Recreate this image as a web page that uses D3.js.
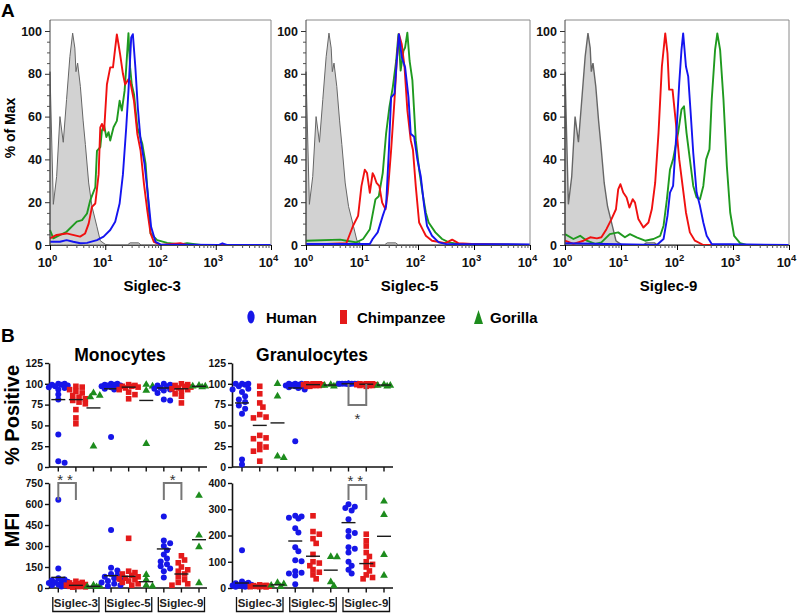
<!DOCTYPE html>
<html><head><meta charset="utf-8">
<script src="https://cdnjs.cloudflare.com/ajax/libs/d3/7.8.5/d3.min.js"></script>
<style>
body{margin:0;background:#fff}
svg{display:block}
text{font-family:"Liberation Sans",Arial,sans-serif}
</style>
</head><body>
<svg id="c" width="800" height="613"></svg>
<script>
// ---------- Panel A data: [log10 intensity, % of max] ----------
const isotype = [[0,0],[0,81],[0.06,19],[0.12,32],[0.18,60],[0.24,48],[0.3,68],[0.36,88],[0.41,99],[0.45,92],[0.47,81],[0.5,85],[0.55,74],[0.6,58],[0.64,47],[0.7,29],[0.76,18],[0.85,8.5],[0.91,2],[1.0,0.3],[1.1,0],[1.4,0],[1.45,1],[1.6,1],[1.65,0],[4,0]];

const s3Blue = [[0,1.5],[0.18,1.5],[0.3,2.3],[0.42,1.5],[0.55,0.8],[0.67,1],[0.85,2.3],[0.97,3.9],[1.09,7],[1.18,10.9],[1.26,19.4],[1.32,33],[1.38,55],[1.42,72],[1.47,97],[1.5,98.5],[1.545,83],[1.59,64],[1.64,49],[1.71,38],[1.77,24],[1.83,8.5],[1.91,1.5],[2.0,0.3],[3.05,0],[3.12,0.8],[3.2,0],[4,0]];
const s3Red = [[0,3.1],[0.12,4.7],[0.3,5.4],[0.545,3.9],[0.636,5.4],[0.7,10],[0.76,17.8],[0.82,19.4],[0.88,33],[0.91,55],[0.94,56.6],[0.98,53.5],[1.03,75],[1.09,83],[1.14,83],[1.18,92],[1.21,98.4],[1.24,93.8],[1.27,89],[1.32,80],[1.36,75],[1.42,77.5],[1.45,76.7],[1.52,67.4],[1.58,52],[1.64,44],[1.7,28.7],[1.76,16.3],[1.82,5.4],[1.88,1.5],[2.0,0],[2.36,0.8],[2.48,0],[4,0]];
const s3Green = [[0,7],[0.06,3.1],[0.3,6.2],[0.485,10.9],[0.58,11.6],[0.67,14.7],[0.73,21],[0.82,27],[0.85,44],[0.91,45.7],[0.94,53.5],[0.98,55.8],[1.02,50.4],[1.06,52.7],[1.09,48.8],[1.15,55],[1.21,58],[1.26,67.4],[1.3,62.8],[1.35,72],[1.38,83],[1.42,99],[1.45,83],[1.48,75],[1.52,70.5],[1.58,55],[1.67,47.3],[1.73,38],[1.76,27],[1.82,5.4],[1.94,2.3],[2.12,1],[2.36,0.3],[2.48,0.8],[2.73,0],[4,0]];

const s5Blue = [[0,0.5],[1.14,0.5],[1.19,2.8],[1.28,5.9],[1.37,13.6],[1.43,18.2],[1.48,44.4],[1.52,69],[1.58,70.7],[1.62,86],[1.66,98.5],[1.71,87.7],[1.77,83],[1.83,69],[1.87,52],[1.93,50.6],[1.99,39.8],[2.05,32],[2.11,18.2],[2.16,9],[2.25,4.3],[2.37,1.2],[2.49,0.5],[4,0.3]];
const s5Red = [[0,0],[0.37,0.5],[0.72,0.8],[0.75,2.8],[0.84,9],[0.93,13.6],[0.99,27.5],[1.05,35.2],[1.09,33.6],[1.14,24.4],[1.19,33.6],[1.22,32],[1.26,29],[1.31,27.5],[1.36,19.8],[1.42,16.7],[1.46,24.4],[1.52,44.4],[1.58,67.6],[1.62,86],[1.66,98.5],[1.71,93.8],[1.76,83],[1.81,63],[1.87,49],[1.91,44.4],[1.96,27.5],[2.02,10.5],[2.08,7.4],[2.14,4.3],[2.25,2],[2.49,0.9],[2.61,2.5],[2.72,0.9],[2.96,0.5],[4,0]];
const s5Green = [[0,2],[0.61,2.5],[0.72,2],[0.9,1.2],[1.02,2.8],[1.14,7.4],[1.24,21.3],[1.3,22.8],[1.37,33.6],[1.43,52],[1.49,64.5],[1.55,73.8],[1.61,86],[1.65,98.5],[1.69,81.5],[1.74,90.7],[1.77,92.3],[1.81,99.2],[1.85,86],[1.9,76.9],[1.96,49],[2.02,35.2],[2.08,24.4],[2.14,15.1],[2.19,10.5],[2.31,5.9],[2.43,2.8],[2.55,1.2],[2.72,0.5],[4,0]];

const s9Blue = [[0,0.8],[0.74,0.5],[1.64,0],[1.76,2.8],[1.83,13.6],[1.875,24.5],[1.93,27.6],[1.99,52.4],[2.04,75.7],[2.08,91.2],[2.11,98.9],[2.16,83.4],[2.2,78.8],[2.24,63.3],[2.29,43.1],[2.35,24.5],[2.41,18.3],[2.47,10.5],[2.53,4.3],[2.62,0.5],[4,0]];
const s9Red = [[0,2],[0.15,0.5],[0.33,2],[0.45,3.6],[0.57,3.1],[0.65,3.6],[0.74,7.4],[0.83,12.1],[0.91,16.7],[0.95,26],[0.99,28.4],[1.04,24.5],[1.1,22.2],[1.15,17.5],[1.21,21.4],[1.25,19.8],[1.31,12.1],[1.4,8.2],[1.49,10.5],[1.55,16.7],[1.61,29],[1.67,52.4],[1.73,83.4],[1.79,98.9],[1.83,89.6],[1.86,72.6],[1.92,72.6],[1.98,57],[2.04,40],[2.1,27.6],[2.16,15.2],[2.23,5.9],[2.32,2],[2.47,0],[4,0]];
const s9Green = [[0,5.1],[0.15,2.8],[0.27,4.3],[0.39,2],[0.54,0.5],[0.65,1.2],[0.8,5.1],[0.95,5.9],[1.07,3.6],[1.16,5.1],[1.28,3.6],[1.43,2],[1.58,2.8],[1.7,4.3],[1.76,9],[1.82,21.4],[1.875,35.3],[1.93,40],[2.02,52.4],[2.08,63.3],[2.125,64.8],[2.17,52.4],[2.23,40],[2.29,27.6],[2.35,22.2],[2.41,21.4],[2.47,27.6],[2.52,40],[2.58,44.7],[2.62,67.9],[2.68,91.2],[2.72,98.9],[2.77,91.2],[2.83,67.9],[2.89,36.9],[2.95,15.2],[3.02,4.3],[3.13,0.8],[3.24,0],[4,0]];

const histTitles = ["Siglec-3","Siglec-5","Siglec-9"];
const decadeTicks = [1,10,100,1000,10000];
const pctTicksA = [0,20,40,60,80,100];

// ---------- Panel B data ----------
const groups = ["Siglec-3","Siglec-5","Siglec-9"];
const species = ["Human","Chimpanzee","Gorilla"];

const monoPos = [
  [100,100,99,99,98,97,96,95,93,87,81,39,7,5],
  [97,96,93,91,89,86,84,82,80,78,76,69,59,52],
  [89,86,84,25],
  [100,100,99,99,98,98,97,96,95,94,93,36],
  [99,98,97,97,96,95,93,90,87,82],
  [99,97,92,28],
  [100,99,98,97,96,95,94,93,92,89,81,80],
  [100,99,98,97,96,95,94,93,91,88,85,77],
  [98,97,97,96]
];
const monoPosMeans = [81,81,71,94,96,80,95,94,97];

const granPos = [
  [100,100,100,99,97,94,93,90,85,81,78,74,70,64,9,3],
  [97,88,77,72,63,60,59,38,35,34,27,24,21,19,7],
  [100,85,13,11],
  [100,100,100,99,99,98,98,97,97,96,95,93,31],
  [100,100,100,100,99,99,99,98,98,98,97,97],
  [99,99,98,97],
  [100,100,100,100,100,100,100,100,100,100,100,100,100],
  [100,100,100,100,99,99,99,99,98,98,98,97],
  [99,98,98,97]
];
const granPosMeans = [77,50,53,95,99,98.5,100,99.5,98.5];

const monoMFI = [
  [630,140,70,60,55,50,45,40,35,30,25,20,15,10],
  [48,40,36,30,25,22,20,18,15,12,10,8,6],
  [20,15,10,8],
  [415,145,125,100,90,80,70,60,50,40,30,20,15],
  [355,120,110,100,90,80,70,65,60,50,40,30,20],
  [95,60,20,12],
  [510,340,320,300,270,240,210,190,170,155,140,120,75],
  [230,200,180,150,130,120,100,80,60,40,30,20],
  [660,376,293,36]
];
const monoMFIMeans = [76,19,12,88,83,45,279,100,345];

const granMFI = [
  [144,25,20,18,15,12,10,10,8,7,5,5],
  [12,10,9,8,7,6,5,5,4],
  [20,15,10,5],
  [275,272,268,265,228,211,155,140,106,102,64,58,55,48,14],
  [275,215,205,188,170,128,100,95,85,70,60,50,35],
  [119,118,23,8],
  [319,310,305,295,262,217,210,196,155,150,135,100,85,70,55],
  [205,180,160,135,120,100,90,80,65,50,40,35],
  [330,279,127,48]
];
const granMFIMeans = [19,8,12,179,121,68,249,93,197];

const posTicks = [0,25,50,75,100,125];
const monoMFITicks = [0,150,300,450,600,750];
const granMFITicks = [0,100,200,300,400];

// ---------- drawing ----------
const svg = d3.select("#c");
const lineColors = ["#1f9a1f","#f01010","#1414f0"];
const spColors = {Human:"#1616e8", Chimpanzee:"#e41a1a", Gorilla:"#1d8c1d"};

svg.append("text").attr("x",1).attr("y",17).attr("font-size",19).attr("font-weight","bold").text("A");
svg.append("text").attr("x",1).attr("y",342).attr("font-size",19).attr("font-weight","bold").text("B");

const histPanels = [
  {x0:50,x1:271,curves:[s3Green,s3Red,s3Blue]},
  {x0:306,x1:530,curves:[s5Green,s5Red,s5Blue]},
  {x0:565,x1:789,curves:[s9Green,s9Red,s9Blue]}
];

histPanels.forEach((p,i)=>{
  const g = svg.append("g");
  const x = d3.scaleLog().domain([1,1e4]).range([p.x0,p.x1]);
  const y = d3.scaleLinear().domain([0,100]).range([245,31]);
  const px = d=>x(Math.pow(10,d[0]));
  g.append("path").datum(isotype)
    .attr("d", d3.area().x(px).y0(y(0)).y1(d=>y(d[1])))
    .attr("fill","#d2d2d2").attr("stroke","#666").attr("stroke-width",i===2?1.4:1);
  p.curves.forEach((c,j)=>{
    g.append("path").datum(c)
      .attr("d", d3.line().x(px).y(d=>y(d[1])))
      .attr("fill","none").attr("stroke",lineColors[j]).attr("stroke-width",1.9)
      .attr("stroke-linejoin","round");
  });
  g.append("path").attr("d",`M${p.x0},20H${p.x1}V245`).attr("fill","none").attr("stroke","#8a8a8a").attr("stroke-width",1);
  const ya = g.append("g").attr("transform",`translate(${p.x0},0)`)
    .call(d3.axisLeft(y).tickValues(pctTicksA).tickSize(5).tickSizeOuter(0));
  ya.select(".domain").remove();
  ya.selectAll(".tick line").attr("stroke","#333");
  ya.selectAll("text").attr("font-size",12.5).attr("font-weight","bold").attr("fill","#111").attr("font-family","Liberation Sans, Arial");
  const minorY = d3.range(0,101,5).filter(v=>v%20!==0);
  g.append("g").attr("transform",`translate(${p.x0},0)`)
    .call(d3.axisLeft(y).tickValues(minorY).tickSize(3).tickFormat(""))
    .call(s=>{s.select(".domain").remove(); s.selectAll("line").attr("stroke","#555");});
  g.append("line").attr("x1",p.x0).attr("x2",p.x0).attr("y1",20).attr("y2",245).attr("stroke","#444");
  const xa = g.append("g").attr("transform","translate(0,245)")
    .call(d3.axisBottom(x).tickValues(decadeTicks).tickSize(5).tickSizeOuter(0).tickFormat(""));
  xa.select(".domain").attr("stroke","#444");
  xa.selectAll(".tick").each(function(d){
    const t = d3.select(this).append("text").attr("y",22).attr("x",-3).attr("text-anchor","middle")
      .attr("fill","#111").attr("font-size",13).attr("font-weight","bold").attr("font-family","Liberation Sans, Arial");
    t.append("tspan").text("10");
    t.append("tspan").attr("dy",-6).attr("font-size",9.5).text(Math.round(Math.log10(d)));
  });
  const minorX = d3.range(0,4).flatMap(k=>d3.range(2,10).map(m=>m*Math.pow(10,k)));
  g.append("g").attr("transform","translate(0,245)")
    .call(d3.axisBottom(x).tickValues(minorX).tickSize(3).tickFormat(""))
    .call(s=>{s.select(".domain").remove(); s.selectAll("line").attr("stroke","#555");});
  g.append("text").attr("x",x(Math.pow(10,1.85))).attr("y",291).attr("text-anchor","middle")
    .attr("font-size",15).attr("font-weight","bold").text(histTitles[i]);
});

svg.append("text").attr("transform","translate(15,128) rotate(-90)").attr("text-anchor","middle")
  .attr("font-size",14).attr("font-weight","bold").text("% of Max");

// legend
const lg = svg.append("g");
lg.append("ellipse").attr("cx",251).attr("cy",317).attr("rx",3.6).attr("ry",6.5).attr("fill",spColors.Human);
lg.append("text").attr("x",266).attr("y",322.5).attr("font-size",15).attr("font-weight","bold").text("Human");
lg.append("rect").attr("x",340).attr("y",310).attr("width",7).attr("height",14).attr("fill",spColors.Chimpanzee);
lg.append("text").attr("x",357).attr("y",322.5).attr("font-size",15).attr("font-weight","bold").text("Chimpanzee");
lg.append("path").attr("d","M474,324L478.5,310L483,324Z").attr("fill",spColors.Gorilla);
lg.append("text").attr("x",490).attr("y",322.5).attr("font-size",15).attr("font-weight","bold").text("Gorilla");

svg.append("text").attr("x",120).attr("y",361).attr("text-anchor","middle").attr("font-size",17.5).attr("font-weight","bold").text("Monocytes");
svg.append("text").attr("x",312).attr("y",361).attr("text-anchor","middle").attr("font-size",17.5).attr("font-weight","bold").text("Granulocytes");
svg.append("text").attr("transform","translate(19,415) rotate(-90)").attr("text-anchor","middle")
  .attr("font-size",20).attr("font-weight","bold").text("% Positive");
svg.append("text").attr("transform","translate(19,530) rotate(-90)").attr("text-anchor","middle")
  .attr("font-size",20).attr("font-weight","bold").text("MFI");

// compact swarm: horizontal spread limited to a few pixels, overlap allowed
function swarm(vals, cx, y, r){
  const placed = [];
  const offs = [0,1,-1,2,-2,3,-3].map(k=>k*r*1.05);
  const pts = vals.map(v=>({v, py:y(v)})).sort((a,b)=>b.v-a.v);
  pts.forEach(p=>{
    let best = null, bestD = -1;
    for(const o of offs){
      const pxx = cx+o;
      const dmin = placed.length? d3.min(placed, q=>Math.hypot(q.px-pxx, q.py-p.py)) : Infinity;
      if(dmin >= 1.6*r){ best = pxx; break; }
      if(dmin > bestD + 0.01){ bestD = dmin; best = pxx; }
    }
    p.px = best; placed.push(p);
  });
  return placed;
}

const symTri = d3.symbol().type(d3.symbolTriangle).size(26)();
function dotPanel(c){
  const g = svg.append("g");
  const x = d3.scalePoint().domain(d3.range(9)).range([c.c0,c.c1]);
  const y = d3.scaleLinear().domain(c.yDom).range(c.yRange);
  const ya = g.append("g").attr("transform",`translate(${c.ax},0)`)
    .call(d3.axisLeft(y).tickValues(c.ticks).tickSize(4).tickSizeOuter(0).tickPadding(2));
  ya.select(".domain").attr("stroke","#111").attr("stroke-width",1.6);
  ya.selectAll(".tick line").attr("stroke","#111").attr("stroke-width",1.4);
  ya.selectAll("text").attr("font-size",10.5).attr("font-weight","bold").attr("fill","#111").attr("font-family","Liberation Sans, Arial");
  const y0 = y(0);
  g.append("line").attr("x1",c.ax).attr("x2",c.xEnd).attr("y1",y0).attr("y2",y0).attr("stroke","#111").attr("stroke-width",1.6);
  g.selectAll(".ct").data(d3.range(9)).join("line").attr("x1",d=>x(d)).attr("x2",d=>x(d))
    .attr("y1",y0).attr("y2",y0+4.5).attr("stroke","#111").attr("stroke-width",1.4);
  c.vals.forEach((vals,i)=>{
    const sp = species[i%3];
    const col = spColors[sp];
    const pts = swarm(vals, x(i), y, 3);
    pts.forEach(p=>{
      if(sp==="Human") g.append("circle").attr("cx",p.px).attr("cy",p.py).attr("r",3).attr("fill",col);
      else if(sp==="Chimpanzee") g.append("rect").attr("x",p.px-2.8).attr("y",p.py-2.8).attr("width",5.6).attr("height",5.6).attr("fill",col);
      else g.append("path").attr("d",symTri).attr("transform",`translate(${p.px},${p.py})`).attr("fill",col);
    });
    g.append("line").attr("x1",x(i)-7).attr("x2",x(i)+7).attr("y1",y(c.means[i])).attr("y2",y(c.means[i]))
      .attr("stroke","#1a1a1a").attr("stroke-width",1.4);
  });
  (c.sig||[]).forEach(s=>{
    const a = x(s.a), b = x(s.b);
    g.append("path").attr("d",`M${a},${s.y1}V${s.y2}H${b}V${s.y1}`).attr("fill","none")
      .attr("stroke","#777").attr("stroke-width",2);
    g.append("text").attr("x",(a+b)/2).attr("y",s.ty).attr("text-anchor","middle").attr("font-size",15)
      .attr("letter-spacing",s.label.length>1?4:0).attr("fill","#333").text(s.label);
  });
  if(c.brackets){
    groups.forEach((gname,k)=>{
      const l = x(3*k)-5.5, r = x(3*k+2)+5.5;
      g.append("path").attr("d",`M${l},597V611.5H${r}V597`).attr("fill","none").attr("stroke","#111").attr("stroke-width",1.3);
      g.append("text").attr("x",(l+r)/2).attr("y",607).attr("text-anchor","middle").attr("font-size",11.5)
        .attr("font-weight","600").attr("font-family","Roboto, Liberation Sans, Arial").attr("fill","#222").text(gname);
    });
  }
}

dotPanel({ax:49, xEnd:207, c0:58.3, c1:199, yDom:[0,125], yRange:[467,363], ticks:posTicks, vals:monoPos, means:monoPosMeans});
dotPanel({ax:232, xEnd:393, c0:242, c1:384, yDom:[0,125], yRange:[467,363], ticks:posTicks, vals:granPos, means:granPosMeans,
  sig:[{a:6,b:7,y1:384,y2:405,ty:424,label:"*"}]});
dotPanel({ax:49, xEnd:207, c0:58.3, c1:199, yDom:[0,750], yRange:[588,483], ticks:monoMFITicks, vals:monoMFI, means:monoMFIMeans, brackets:true,
  sig:[{a:0,b:1,y1:500,y2:483,ty:485,label:"**"},{a:6,b:7,y1:500,y2:483,ty:485,label:"*"}]});
dotPanel({ax:232, xEnd:393, c0:242, c1:384, yDom:[0,400], yRange:[588,483], ticks:granMFITicks, vals:granMFI, means:granMFIMeans, brackets:true,
  sig:[{a:6,b:7,y1:500,y2:485,ty:486,label:"**"}]});
</script>
</body></html>
